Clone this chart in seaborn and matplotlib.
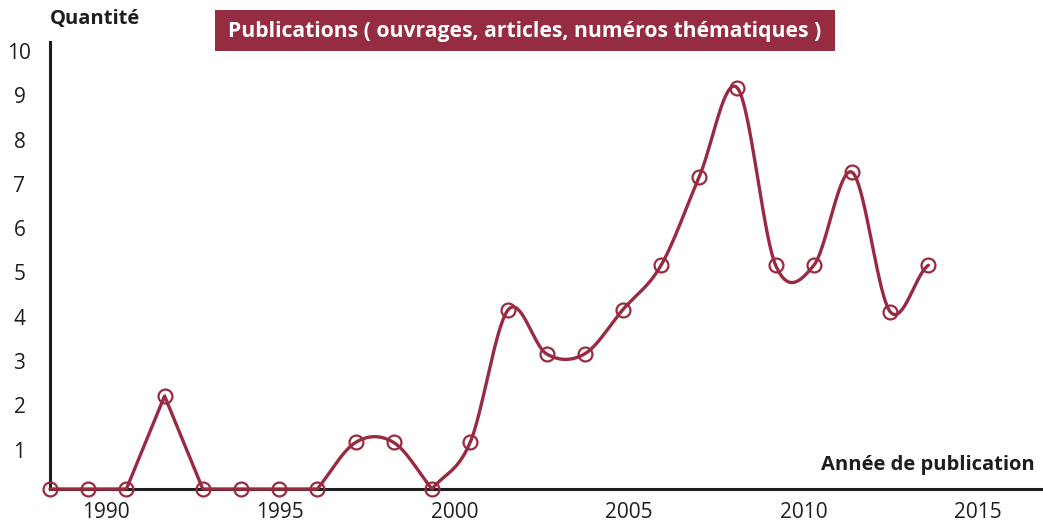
import numpy as np
import pandas as pd
import matplotlib
matplotlib.use("Agg")
import matplotlib.pyplot as plt
import seaborn as sns
from matplotlib.transforms import ScaledTranslation
from matplotlib.patches import Rectangle

# ---------------- data ----------------
counts = [0, 0, 0, 2.1, 0, 0, 0, 0, 1.05, 1.05, 0, 1.05, 4.05, 3.05, 3.05, 4.05,
          5.05, 7.05, 9.05, 5.05, 5.05, 7.15, 4.0, 5.05]
year_ticks = [1990, 1995, 2000, 2005, 2010, 2015]
y_ticks = [1, 2, 3, 4, 5, 6, 7, 8, 9, 10]
title_text = "Publications ( ouvrages, articles, numéros thématiques )"
y_title = "Quantité"
x_title = "Année de publication"

# layout constants: point index -> year on the printed axis
YEAR0 = 1988.4
YEARS_PER_POINT = 1.0946

RED = "#982b41"
BOX = "#962c41"
INK = "#1e1e1e"

sns.set_style("white")
plt.rcParams["font.family"] = ["Open Sans", "DejaVu Sans"]


def smooth_curve(vals, n_sub=40):
    y = np.asarray(vals, float)
    n = len(y)
    mL = np.zeros(n)
    mR = np.zeros(n)
    for i in range(n):
        if i == 0:
            mL[i] = mR[i] = 0.0
            continue
        if i == n - 1:
            m = (y[i] - y[i - 1]) * 0.5
            mL[i] = mR[i] = m
            continue
        left = y[i] - y[i - 1]
        right = y[i + 1] - y[i]
        spike = y[i] != 0 and y[i - 1] == 0 and y[i + 1] == 0
        if y[i] == 0 or spike:
            mL[i], mR[i] = left, right
        else:
            m = (y[i + 1] - y[i - 1]) / 2.0
            mL[i] = mR[i] = m
    xs, ys = [], []
    for i in range(n - 1):
        t = np.linspace(0, 1, n_sub, endpoint=(i == n - 2))
        h00 = 2 * t**3 - 3 * t**2 + 1
        h10 = t**3 - 2 * t**2 + t
        h01 = -2 * t**3 + 3 * t**2
        h11 = t**3 - t**2
        ys.append(h00 * y[i] + h10 * mR[i] + h01 * y[i + 1] + h11 * mL[i + 1])
        xs.append(i + t)
    return np.concatenate(xs), np.concatenate(ys)


fig = plt.figure(figsize=(10.43, 5.27), dpi=100)
ax = fig.add_axes([50 / 1043, 38 / 527, 993 / 1043, 447 / 527])

idx = np.arange(len(counts))
cx, cy = smooth_curve(counts)
curve = pd.DataFrame({"x": cx, "y": cy})
pts = pd.DataFrame({"x": idx, "y": counts})

sns.lineplot(data=curve, x="x", y="y", ax=ax, color=RED, linewidth=2.4,
             estimator=None, sort=False, zorder=3)
sns.lineplot(data=pts, x="x", y="y", ax=ax, linestyle="", marker="o",
             markersize=10, markerfacecolor="none", markeredgecolor=RED,
             markeredgewidth=1.6, color=RED, estimator=None, sort=False, zorder=4)
for ln in ax.get_lines():
    ln.set_clip_on(False)

ax.set_xlim(0, 26.0)
ax.set_ylim(0, 10.09)

ax.set_xticks([(yr - YEAR0) / YEARS_PER_POINT for yr in year_ticks],
              labels=[str(yr) for yr in year_ticks])
ax.set_yticks(y_ticks, labels=[str(v) for v in y_ticks])
ax.set_xlabel("")
ax.set_ylabel("")

ax.tick_params(axis="x", length=0, pad=9, labelsize=15, labelcolor=INK)
ax.tick_params(axis="y", length=0, pad=22, labelsize=15, labelcolor=INK)
for lab in ax.get_yticklabels():
    lab.set_horizontalalignment("center")
    lab.set_transform(lab.get_transform() + ScaledTranslation(0, -5 / 100, fig.dpi_scale_trans))

for side in ["top", "right"]:
    ax.spines[side].set_visible(False)
for side in ["left", "bottom"]:
    ax.spines[side].set_color(INK)
    ax.spines[side].set_linewidth(2.2)
    ax.spines[side].set_zorder(2)
ax.grid(False)

# texts
fig.text(50 / 1043, 1 - 19 / 527, y_title, fontsize=14.5, fontweight="bold",
         color=INK, ha="left", va="center")
fig.text(1035 / 1043, 1 - 465 / 527, x_title, fontsize=14.5, fontweight="bold",
         color=INK, ha="right", va="center")

fig.patches.append(Rectangle((215 / 1043, 1 - 51 / 527), 620 / 1043, 41 / 527,
                             transform=fig.transFigure, facecolor=BOX,
                             edgecolor="none", zorder=1))
fig.text(525 / 1043, 1 - 31 / 527, title_text, fontsize=15.2, fontweight="bold",
         color="white", ha="center", va="center", zorder=2)

fig.savefig("out.png", dpi=100)
